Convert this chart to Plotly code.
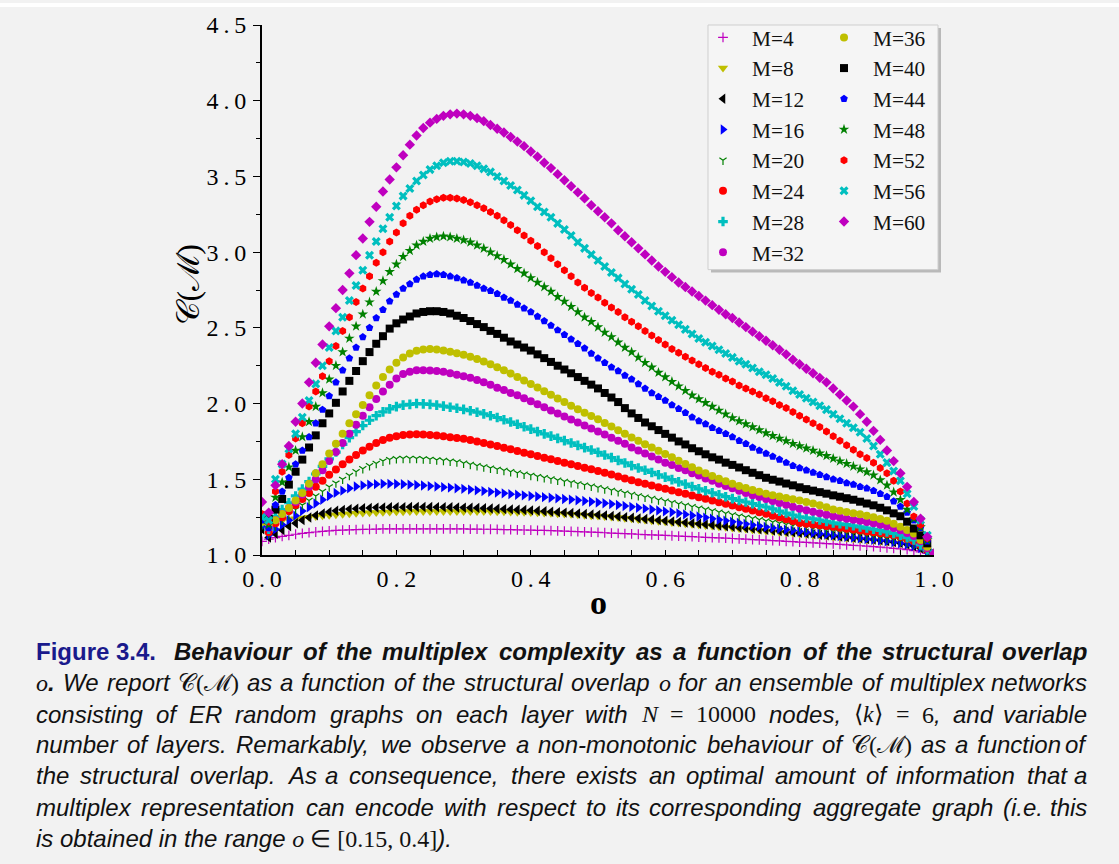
import plotly.graph_objects as go

# ---------------- data ----------------
o_values = [0.00, 0.01, 0.02, 0.03, 0.04, 0.05, 0.06, 0.07, 0.08, 0.09,
            0.10, 0.11, 0.12, 0.13, 0.14, 0.15, 0.16, 0.17, 0.18, 0.19,
            0.20, 0.21, 0.22, 0.23, 0.24, 0.25, 0.26, 0.27, 0.28, 0.29,
            0.30, 0.31, 0.32, 0.33, 0.34, 0.35, 0.36, 0.37, 0.38, 0.39,
            0.40, 0.41, 0.42, 0.43, 0.44, 0.45, 0.46, 0.47, 0.48, 0.49,
            0.50, 0.51, 0.52, 0.53, 0.54, 0.55, 0.56, 0.57, 0.58, 0.59,
            0.60, 0.61, 0.62, 0.63, 0.64, 0.65, 0.66, 0.67, 0.68, 0.69,
            0.70, 0.71, 0.72, 0.73, 0.74, 0.75, 0.76, 0.77, 0.78, 0.79,
            0.80, 0.81, 0.82, 0.83, 0.84, 0.85, 0.86, 0.87, 0.88, 0.89,
            0.90, 0.91, 0.92, 0.93, 0.94, 0.95, 0.96, 0.97, 0.98, 0.99,
            1.00]

series_names = ["M=4", "M=8", "M=12", "M=16", "M=20", "M=24", "M=28", "M=32",
                "M=36", "M=40", "M=44", "M=48", "M=52", "M=56", "M=60"]

c_M4 = [1.09, 1.105, 1.115, 1.123, 1.13, 1.137, 1.143, 1.148, 1.152, 1.156,
        1.159, 1.162, 1.164, 1.166, 1.168, 1.169, 1.17, 1.171, 1.172, 1.172,
        1.173, 1.173, 1.173, 1.173, 1.173, 1.173, 1.173, 1.173, 1.172, 1.172,
        1.172, 1.171, 1.171, 1.17, 1.17, 1.169, 1.168, 1.167, 1.166, 1.165,
        1.164, 1.163, 1.162, 1.161, 1.159, 1.158, 1.156, 1.155, 1.153, 1.151,
        1.149, 1.147, 1.145, 1.143, 1.141, 1.139, 1.137, 1.135, 1.133, 1.131,
        1.129, 1.127, 1.125, 1.123, 1.121, 1.119, 1.117, 1.115, 1.113, 1.111,
        1.109, 1.107, 1.105, 1.102, 1.1, 1.098, 1.095, 1.093, 1.09, 1.088,
        1.085, 1.083, 1.08, 1.078, 1.075, 1.073, 1.07, 1.067, 1.064, 1.061,
        1.058, 1.055, 1.052, 1.048, 1.044, 1.04, 1.035, 1.029, 1.021, 1.011,
        1.001]

c_M8 = [1.22, 1.215, 1.222, 1.228, 1.234, 1.24, 1.245, 1.25, 1.255, 1.259,
        1.263, 1.266, 1.269, 1.272, 1.275, 1.277, 1.279, 1.281, 1.283, 1.284,
        1.285, 1.286, 1.287, 1.287, 1.288, 1.288, 1.288, 1.288, 1.288, 1.288,
        1.288, 1.288, 1.288, 1.287, 1.287, 1.286, 1.285, 1.284, 1.283, 1.282,
        1.281, 1.279, 1.277, 1.275, 1.273, 1.271, 1.269, 1.266, 1.263, 1.26,
        1.257, 1.254, 1.251, 1.247, 1.243, 1.239, 1.235, 1.231, 1.227, 1.223,
        1.219, 1.215, 1.211, 1.207, 1.203, 1.199, 1.195, 1.191, 1.187, 1.183,
        1.179, 1.175, 1.171, 1.167, 1.163, 1.159, 1.155, 1.151, 1.147, 1.143,
        1.139, 1.135, 1.131, 1.127, 1.123, 1.119, 1.115, 1.111, 1.107, 1.103,
        1.099, 1.095, 1.091, 1.086, 1.081, 1.075, 1.067, 1.057, 1.043, 1.021,
        1.002]

c_M12 = [1.17, 1.115, 1.14, 1.165, 1.19, 1.21, 1.23, 1.248, 1.262, 1.274,
         1.284, 1.292, 1.298, 1.303, 1.306, 1.309, 1.311, 1.313, 1.314, 1.315,
         1.316, 1.316, 1.317, 1.317, 1.317, 1.317, 1.316, 1.316, 1.315, 1.314,
         1.313, 1.312, 1.311, 1.309, 1.307, 1.305, 1.303, 1.301, 1.299, 1.297,
         1.295, 1.292, 1.289, 1.286, 1.283, 1.28, 1.277, 1.274, 1.271, 1.268,
         1.265, 1.262, 1.258, 1.254, 1.25, 1.246, 1.242, 1.238, 1.234, 1.23,
         1.226, 1.222, 1.218, 1.214, 1.21, 1.206, 1.202, 1.198, 1.194, 1.19,
         1.186, 1.182, 1.178, 1.174, 1.17, 1.166, 1.162, 1.158, 1.154, 1.15,
         1.146, 1.142, 1.138, 1.134, 1.13, 1.126, 1.122, 1.118, 1.114, 1.11,
         1.106, 1.102, 1.097, 1.092, 1.086, 1.079, 1.07, 1.059, 1.044, 1.022,
         1.002]

c_M16 = [1.19, 1.13, 1.17, 1.20, 1.23, 1.26, 1.29, 1.315, 1.34, 1.365,
         1.39, 1.41, 1.425, 1.44, 1.452, 1.46, 1.465, 1.468, 1.47, 1.47,
         1.469, 1.467, 1.465, 1.462, 1.459, 1.455, 1.452, 1.448, 1.445, 1.441,
         1.437, 1.432, 1.427, 1.422, 1.417, 1.412, 1.407, 1.402, 1.398, 1.394,
         1.39, 1.386, 1.382, 1.378, 1.374, 1.37, 1.366, 1.362, 1.357, 1.352,
         1.347, 1.342, 1.336, 1.33, 1.324, 1.318, 1.312, 1.306, 1.3, 1.294,
         1.288, 1.282, 1.275, 1.268, 1.261, 1.254, 1.247, 1.24, 1.233, 1.226,
         1.219, 1.212, 1.205, 1.198, 1.191, 1.185, 1.179, 1.173, 1.167, 1.161,
         1.155, 1.15, 1.145, 1.14, 1.135, 1.13, 1.125, 1.12, 1.115, 1.11,
         1.105, 1.1, 1.095, 1.09, 1.084, 1.077, 1.069, 1.059, 1.046, 1.025,
         1.002]

c_M20 = [1.20, 1.14, 1.19, 1.23, 1.265, 1.30, 1.33, 1.36, 1.39, 1.42,
         1.45, 1.475, 1.50, 1.525, 1.55, 1.57, 1.59, 1.605, 1.62, 1.63,
         1.636, 1.638, 1.638, 1.637, 1.635, 1.632, 1.628, 1.624, 1.619, 1.614,
         1.606, 1.598, 1.59, 1.582, 1.574, 1.566, 1.558, 1.55, 1.542, 1.534,
         1.526, 1.518, 1.51, 1.502, 1.494, 1.486, 1.478, 1.47, 1.462, 1.454,
         1.445, 1.436, 1.427, 1.418, 1.409, 1.4, 1.391, 1.382, 1.373, 1.364,
         1.355, 1.346, 1.337, 1.328, 1.319, 1.31, 1.301, 1.292, 1.283, 1.274,
         1.265, 1.257, 1.249, 1.241, 1.233, 1.225, 1.217, 1.209, 1.201, 1.193,
         1.186, 1.18, 1.174, 1.168, 1.162, 1.156, 1.15, 1.144, 1.138, 1.132,
         1.126, 1.12, 1.114, 1.108, 1.101, 1.093, 1.084, 1.073, 1.057, 1.03,
         1.003]

c_M24 = [1.22, 1.15, 1.21, 1.25, 1.29, 1.33, 1.37, 1.41, 1.45, 1.49,
         1.53, 1.565, 1.60, 1.63, 1.66, 1.69, 1.715, 1.74, 1.76, 1.775,
         1.785, 1.792, 1.795, 1.797, 1.796, 1.793, 1.789, 1.784, 1.778, 1.772,
         1.767, 1.76, 1.75, 1.74, 1.73, 1.72, 1.709, 1.698, 1.687, 1.676,
         1.665, 1.654, 1.643, 1.632, 1.621, 1.61, 1.599, 1.588, 1.577, 1.566,
         1.555, 1.543, 1.531, 1.519, 1.506, 1.493, 1.481, 1.47, 1.459, 1.448,
         1.437, 1.426, 1.415, 1.404, 1.393, 1.382, 1.371, 1.36, 1.349, 1.338,
         1.327, 1.316, 1.305, 1.294, 1.283, 1.272, 1.26, 1.248, 1.236, 1.224,
         1.212, 1.207, 1.202, 1.197, 1.192, 1.186, 1.18, 1.174, 1.168, 1.162,
         1.156, 1.15, 1.144, 1.138, 1.13, 1.12, 1.106, 1.09, 1.065, 1.035,
         1.003]

c_M28 = [1.22, 1.17, 1.255, 1.30, 1.345, 1.39, 1.435, 1.485, 1.535, 1.585,
         1.635, 1.68, 1.73, 1.775, 1.815, 1.855, 1.89, 1.92, 1.945, 1.965,
         1.98, 1.99, 1.995, 2.00, 1.998, 1.995, 1.99, 1.983, 1.976, 1.969,
         1.962, 1.953, 1.943, 1.932, 1.92, 1.908, 1.893, 1.878, 1.863, 1.847,
         1.831, 1.815, 1.8, 1.785, 1.77, 1.755, 1.74, 1.724, 1.709, 1.693,
         1.678, 1.66, 1.643, 1.625, 1.608, 1.59, 1.575, 1.56, 1.545, 1.53,
         1.514, 1.498, 1.483, 1.468, 1.452, 1.437, 1.424, 1.411, 1.398, 1.385,
         1.372, 1.361, 1.35, 1.339, 1.328, 1.317, 1.304, 1.29, 1.277, 1.264,
         1.252, 1.245, 1.238, 1.231, 1.222, 1.212, 1.206, 1.2, 1.193, 1.186,
         1.178, 1.17, 1.162, 1.153, 1.142, 1.131, 1.115, 1.099, 1.066, 1.033,
         1.003]

c_M32 = [1.24, 1.18, 1.23, 1.27, 1.31, 1.35, 1.40, 1.45, 1.50, 1.56,
         1.62, 1.68, 1.74, 1.80, 1.86, 1.92, 1.975, 2.03, 2.08, 2.125,
         2.165, 2.195, 2.21, 2.22, 2.22, 2.218, 2.215, 2.21, 2.20, 2.19,
         2.18, 2.17, 2.155, 2.14, 2.125, 2.105, 2.09, 2.07, 2.055, 2.035,
         2.015, 1.995, 1.975, 1.955, 1.935, 1.915, 1.895, 1.875, 1.855, 1.835,
         1.815, 1.795, 1.775, 1.755, 1.735, 1.71, 1.69, 1.67, 1.65, 1.63,
         1.61, 1.595, 1.575, 1.56, 1.54, 1.525, 1.505, 1.49, 1.47, 1.455,
         1.44, 1.425, 1.41, 1.395, 1.383, 1.37, 1.357, 1.344, 1.332, 1.318,
         1.306, 1.295, 1.285, 1.275, 1.265, 1.256, 1.248, 1.24, 1.233, 1.226,
         1.218, 1.21, 1.20, 1.19, 1.178, 1.164, 1.145, 1.125, 1.09, 1.045,
         1.005]

c_M36 = [1.22, 1.20, 1.23, 1.27, 1.31, 1.36, 1.41, 1.47, 1.54, 1.60,
         1.67, 1.735, 1.80, 1.87, 1.93, 1.99, 2.055, 2.12, 2.175, 2.225,
         2.27, 2.305, 2.33, 2.348, 2.357, 2.36, 2.357, 2.35, 2.342, 2.333,
         2.322, 2.31, 2.295, 2.278, 2.26, 2.24, 2.22, 2.198, 2.176, 2.153,
         2.13, 2.106, 2.082, 2.058, 2.034, 2.01, 1.986, 1.962, 1.94, 1.918,
         1.896, 1.872, 1.848, 1.824, 1.80, 1.776, 1.754, 1.732, 1.71, 1.688,
         1.667, 1.645, 1.623, 1.601, 1.58, 1.558, 1.54, 1.522, 1.504, 1.487,
         1.47, 1.456, 1.443, 1.43, 1.417, 1.404, 1.395, 1.386, 1.377, 1.368,
         1.36, 1.35, 1.34, 1.328, 1.315, 1.30, 1.292, 1.284, 1.276, 1.269,
         1.26, 1.25, 1.238, 1.226, 1.206, 1.186, 1.165, 1.142, 1.099, 1.055,
         1.005]

c_M40 = [1.26, 1.24, 1.30, 1.37, 1.465, 1.55, 1.63, 1.71, 1.79, 1.87,
         1.935, 2.005, 2.08, 2.15, 2.215, 2.28, 2.34, 2.395, 2.445, 2.495,
         2.53, 2.555, 2.575, 2.595, 2.605, 2.61, 2.61, 2.605, 2.595, 2.58,
         2.565, 2.545, 2.525, 2.505, 2.48, 2.46, 2.435, 2.41, 2.39, 2.37,
         2.35, 2.325, 2.30, 2.275, 2.25, 2.225, 2.20, 2.175, 2.15, 2.125,
         2.10, 2.07, 2.04, 2.01, 1.97, 1.935, 1.905, 1.875, 1.85, 1.825,
         1.80, 1.775, 1.75, 1.73, 1.705, 1.685, 1.665, 1.645, 1.63, 1.61,
         1.595, 1.578, 1.56, 1.543, 1.527, 1.51, 1.497, 1.485, 1.472, 1.46,
         1.447, 1.435, 1.425, 1.415, 1.405, 1.394, 1.385, 1.375, 1.365, 1.352,
         1.34, 1.328, 1.312, 1.295, 1.275, 1.256, 1.22, 1.175, 1.13, 1.077,
         1.01]

c_M44 = [1.23, 1.18, 1.33, 1.42, 1.51, 1.60, 1.69, 1.78, 1.87, 1.96,
         2.05, 2.14, 2.22, 2.30, 2.37, 2.44, 2.50, 2.565, 2.62, 2.675,
         2.72, 2.76, 2.79, 2.82, 2.84, 2.85, 2.855, 2.85, 2.84, 2.83,
         2.815, 2.80, 2.78, 2.76, 2.745, 2.725, 2.70, 2.68, 2.655, 2.63,
         2.605, 2.575, 2.545, 2.515, 2.485, 2.455, 2.425, 2.395, 2.365, 2.33,
         2.30, 2.27, 2.24, 2.215, 2.185, 2.16, 2.13, 2.10, 2.07, 2.045,
         2.02, 1.99, 1.965, 1.94, 1.91, 1.885, 1.865, 1.84, 1.82, 1.80,
         1.78, 1.755, 1.735, 1.71, 1.69, 1.67, 1.65, 1.63, 1.61, 1.59,
         1.575, 1.56, 1.545, 1.53, 1.515, 1.50, 1.49, 1.475, 1.465, 1.45,
         1.44, 1.425, 1.405, 1.385, 1.355, 1.32, 1.28, 1.23, 1.18, 1.09,
         1.01]

c_M48 = [1.25, 1.20, 1.38, 1.48, 1.58, 1.69, 1.78, 1.88, 1.98, 2.07,
         2.16, 2.25, 2.34, 2.43, 2.51, 2.59, 2.67, 2.74, 2.81, 2.87,
         2.92, 2.97, 3.01, 3.045, 3.07, 3.09, 3.10, 3.105, 3.10, 3.09,
         3.08, 3.065, 3.045, 3.025, 3.00, 2.975, 2.95, 2.92, 2.89, 2.86,
         2.83, 2.80, 2.77, 2.74, 2.705, 2.675, 2.64, 2.605, 2.57, 2.54,
         2.505, 2.47, 2.44, 2.405, 2.37, 2.34, 2.305, 2.27, 2.24, 2.205,
         2.175, 2.145, 2.115, 2.085, 2.055, 2.03, 2.005, 1.98, 1.955, 1.93,
         1.905, 1.885, 1.865, 1.845, 1.825, 1.805, 1.787, 1.77, 1.753, 1.735,
         1.72, 1.705, 1.69, 1.672, 1.655, 1.637, 1.62, 1.603, 1.585, 1.567,
         1.548, 1.527, 1.495, 1.46, 1.415, 1.365, 1.30, 1.24, 1.185, 1.10,
         1.01]

c_M52 = [1.27, 1.22, 1.42, 1.55, 1.66, 1.77, 1.87, 1.98, 2.08, 2.18,
         2.28, 2.38, 2.48, 2.57, 2.67, 2.76, 2.84, 2.93, 3.00, 3.07,
         3.13, 3.19, 3.24, 3.28, 3.31, 3.335, 3.35, 3.36, 3.36, 3.355,
         3.345, 3.33, 3.31, 3.29, 3.265, 3.24, 3.21, 3.18, 3.145, 3.11,
         3.075, 3.04, 3.00, 2.96, 2.92, 2.88, 2.84, 2.80, 2.765, 2.73,
         2.70, 2.665, 2.635, 2.605, 2.57, 2.54, 2.51, 2.48, 2.45, 2.42,
         2.39, 2.36, 2.335, 2.31, 2.285, 2.26, 2.235, 2.21, 2.19, 2.165,
         2.145, 2.12, 2.10, 2.08, 2.06, 2.035, 2.015, 1.99, 1.97, 1.945,
         1.92, 1.895, 1.87, 1.845, 1.815, 1.785, 1.755, 1.725, 1.695, 1.665,
         1.64, 1.61, 1.575, 1.54, 1.49, 1.42, 1.34, 1.255, 1.20, 1.11,
         1.01]

c_M56 = [1.25, 1.23, 1.50, 1.60, 1.70, 1.80, 1.91, 2.02, 2.13, 2.25,
         2.37, 2.48, 2.57, 2.68, 2.78, 2.88, 2.98, 3.07, 3.155, 3.23,
         3.305, 3.37, 3.42, 3.47, 3.51, 3.545, 3.57, 3.59, 3.60, 3.60,
         3.595, 3.585, 3.57, 3.55, 3.53, 3.50, 3.47, 3.44, 3.41, 3.375,
         3.34, 3.30, 3.265, 3.23, 3.19, 3.15, 3.11, 3.065, 3.025, 2.985,
         2.945, 2.905, 2.865, 2.83, 2.79, 2.755, 2.72, 2.68, 2.645, 2.61,
         2.58, 2.55, 2.52, 2.49, 2.46, 2.43, 2.405, 2.38, 2.355, 2.33,
         2.305, 2.28, 2.26, 2.235, 2.21, 2.19, 2.165, 2.14, 2.115, 2.085,
         2.06, 2.035, 2.01, 1.985, 1.96, 1.93, 1.90, 1.87, 1.84, 1.81,
         1.77, 1.72, 1.665, 1.61, 1.555, 1.49, 1.405, 1.32, 1.23, 1.13,
         1.01]

c_M60 = [1.35, 1.28, 1.46, 1.60, 1.72, 1.88, 2.00, 2.14, 2.27, 2.39,
         2.51, 2.63, 2.75, 2.86, 2.98, 3.09, 3.20, 3.30, 3.40, 3.48,
         3.56, 3.64, 3.71, 3.77, 3.82, 3.855, 3.88, 3.90, 3.91, 3.915,
         3.91, 3.90, 3.885, 3.865, 3.84, 3.815, 3.79, 3.76, 3.73, 3.70,
         3.665, 3.63, 3.59, 3.555, 3.515, 3.475, 3.435, 3.395, 3.355, 3.31,
         3.27, 3.23, 3.19, 3.145, 3.105, 3.065, 3.025, 2.985, 2.945, 2.905,
         2.87, 2.835, 2.80, 2.77, 2.74, 2.71, 2.68, 2.65, 2.62, 2.59,
         2.565, 2.535, 2.505, 2.475, 2.445, 2.415, 2.385, 2.355, 2.325, 2.29,
         2.26, 2.23, 2.20, 2.17, 2.14, 2.10, 2.06, 2.02, 1.98, 1.93,
         1.88, 1.82, 1.76, 1.69, 1.62, 1.54, 1.45, 1.35, 1.24, 1.12,
         1.01]

series_values = [c_M4, c_M8, c_M12, c_M16, c_M20, c_M24, c_M28, c_M32,
                 c_M36, c_M40, c_M44, c_M48, c_M52, c_M56, c_M60]

y_tick_values = [1.0, 1.5, 2.0, 2.5, 3.0, 3.5, 4.0, 4.5]
x_tick_values = [0.0, 0.2, 0.4, 0.6, 0.8, 1.0]

# ---------------- styles ----------------
MAG, YEL, BLK, BLU, GRN, RED, CYN = "#bf00bf", "#bfbf00", "#000000", "#0000ff", "#008000", "#ff0000", "#00bfbf"
styles = [
    dict(symbol="cross-thin", color=MAG, size=7, line=dict(width=1.2, color=MAG)),
    dict(symbol="triangle-down", color=YEL, size=9, line=dict(width=0)),
    dict(symbol="triangle-left", color=BLK, size=9, line=dict(width=0)),
    dict(symbol="triangle-right", color=BLU, size=9, line=dict(width=0)),
    dict(symbol="y-down", color=GRN, size=6, line=dict(width=1.2, color=GRN)),
    dict(symbol="circle", color=RED, size=8, line=dict(width=0)),
    dict(symbol="cross", color=CYN, size=8, line=dict(width=0)),
    dict(symbol="circle", color=MAG, size=8, line=dict(width=0)),
    dict(symbol="circle", color=YEL, size=8, line=dict(width=0)),
    dict(symbol="square", color=BLK, size=8, line=dict(width=0)),
    dict(symbol="pentagon", color=BLU, size=8, line=dict(width=0)),
    dict(symbol="star", color=GRN, size=8, line=dict(width=0)),
    dict(symbol="hexagon", color=RED, size=8, line=dict(width=0)),
    dict(symbol="x", color=CYN, size=8, line=dict(width=0)),
    dict(symbol="diamond", color=MAG, size=8, line=dict(width=0)),
]

fig = go.Figure()
for i, (name, vals, st) in enumerate(zip(series_names, series_values, styles)):
    fig.add_trace(go.Scatter(
        x=o_values, y=vals, mode="markers", name=name,
        marker=st,
        legend="legend" if i < 8 else "legend2",
    ))

# ---------------- layout helpers (pixel -> paper) ----------------
L, R, T, B = 262, 934, 22, 555
def px(xp):
    return (xp - L) / (R - L)
def py(yp):
    return (B - yp) / (B - T)

BG = "#f2f2f2"
SERIF = "Liberation Serif"
SANS = "Liberation Sans"
TS = "\u2009"

legend_common = dict(
    xanchor="left", yanchor="top", bgcolor="rgba(0,0,0,0)", borderwidth=0,
    font=dict(family=SERIF, size=21.3, color="#111111"), itemwidth=48, tracegroupgap=0,
)

def tick_text(v):
    s = f"{v:.1f}"
    return TS.join(s)

fig.update_layout(
    width=1119, height=864,
    margin=dict(l=L, r=1119 - R, t=T, b=864 - B, pad=0),
    paper_bgcolor=BG, plot_bgcolor=BG,
    showlegend=True,
    legend=dict(x=px(694), y=py(14), **legend_common),
    legend2=dict(x=px(815), y=py(14), **legend_common),
    xaxis=dict(
        range=[0, 1], showgrid=False, zeroline=False,
        showline=True, linecolor="black", linewidth=2,
        ticks="inside", ticklen=5, tickwidth=1.2, tickcolor="black",
        tickvals=x_tick_values, ticktext=[tick_text(v) for v in x_tick_values],
        tickfont=dict(family=SERIF, size=24, color="black"),
        ticklabelstandoff=1,
        minor=dict(dtick=0.05, tick0=0, ticks="inside", ticklen=5, tickwidth=1.2, tickcolor="black"),
    ),
    yaxis=dict(
        range=[1, 4.5], showgrid=False, zeroline=False,
        showline=True, linecolor="black", linewidth=2,
        ticks="outside", ticklen=7, tickwidth=1.2, tickcolor="black",
        tickvals=y_tick_values, ticktext=[tick_text(v) for v in y_tick_values],
        tickfont=dict(family=SERIF, size=24, color="black"),
        ticklabelstandoff=2,
        minor=dict(dtick=0.25, tick0=1, ticks="outside", ticklen=4, tickwidth=1.2, tickcolor="black"),
    ),
)

# legend frame with shadow + thin white strip at the very top
shapes = [
    dict(type="rect", xref="paper", yref="paper", x0=px(711), x1=px(941), y0=py(271), y1=py(25),
         fillcolor="#b9b9b9", line=dict(width=0), layer="above"),
    dict(type="rect", xref="paper", yref="paper", x0=px(708), x1=px(938), y0=py(268), y1=py(22),
         fillcolor="#f5f5f5", line=dict(width=1, color="#cfcfcf"), layer="above"),
    dict(type="rect", xref="paper", yref="paper", x0=px(0), x1=px(1119), y0=py(4), y1=py(0),
         fillcolor="#ffffff", line=dict(width=0), layer="above"),
]
fig.update_layout(shapes=shapes)

ann = []
# axis titles
ann.append(dict(x=px(598), y=py(603), xref="paper", yref="paper", text="<b>o</b>", showarrow=False,
                font=dict(family=SERIF, size=34, color="black"), xanchor="center", yanchor="middle"))
ann.append(dict(x=px(188), y=py(283), xref="paper", yref="paper", text="\U0001D49E(\u2133)", showarrow=False,
                textangle=-90, font=dict(family=SERIF, size=32, color="black"), xanchor="center", yanchor="middle"))

# ---------------- caption with justified lines ----------------
# advance widths (em) of Liberation Sans (Arial-compatible metrics), regular/italic and bold
W_REG = {' ': .278, '.': .278, ',': .278, '-': .333, '(': .333, ')': .333,
         'A': .667, 'C': .722, 'E': .667, 'F': .611, 'N': .722, 'R': .722, 'W': .944,
         'a': .556, 'b': .556, 'c': .5, 'd': .556, 'e': .556, 'f': .278, 'g': .556, 'h': .556,
         'i': .222, 'j': .222, 'k': .5, 'l': .222, 'm': .833, 'n': .556, 'o': .556, 'p': .556,
         'q': .556, 'r': .333, 's': .5, 't': .278, 'u': .556, 'v': .5, 'w': .722, 'x': .5,
         'y': .5, 'z': .5}
W_BOLD = {' ': .278, '.': .278, '3': .556, '4': .556, 'B': .722, 'F': .611,
          'a': .556, 'b': .611, 'c': .556, 'e': .556, 'f': .333, 'g': .611, 'h': .611, 'i': .278,
          'l': .278, 'm': .889, 'n': .611, 'o': .611, 'p': .611, 'r': .389, 's': .556, 't': .333,
          'u': .611, 'v': .556, 'x': .556, 'y': .556}
W_SERIF = {'o': .5, 'N': .667, '=': .564, '0': .5, '1': .5, '4': .5, '5': .5, '6': .5,
           '[': .333, ']': .333, ',': .25, '.': .25, ' ': .25, 'k': .444,
           '\u27e8': .39, '\u27e9': .39, '\u2208': .67, '\U0001D49E': .8, '\u2133': 1.05,
           '(': .333, ')': .333}

REG_SIZE, BOLD_SIZE, MATH_SIZE = 24, 24, 24
WF = 1.012

def wid(s, table, size):
    return sum(table.get(ch, .6) for ch in s) * size * WF

def r(t):
    return dict(html=f"<i>{t}</i>", w=wid(t, W_REG, REG_SIZE), fam=SANS, size=REG_SIZE, color="#111111")

def b(t):
    return dict(html=f"<b><i>{t}</i></b>", w=wid(t, W_BOLD, BOLD_SIZE), fam=SANS, size=BOLD_SIZE, color="#111111")

def mth(html, plain):
    return dict(html=html, w=wid(plain, W_SERIF, MATH_SIZE), fam=SERIF, size=MATH_SIZE, color="#111111")

def mix(html, w):
    return dict(html=html, w=w, fam=SERIF, size=MATH_SIZE, color="#111111")

CM = "\U0001D49E(\u2133)"
fig_tok = dict(html="<b>Figure 3.4.</b>", w=wid("Figure 3.4.", W_BOLD, BOLD_SIZE) + 6,
               fam=SANS, size=BOLD_SIZE, color="#1a1a8c")
o_dot = mix(f"<i>o</i><span style='font-family:{SANS};font-size:{BOLD_SIZE}px'><b><i>.</i></b></span>",
            wid("o", W_SERIF, MATH_SIZE) + wid(".", W_BOLD, BOLD_SIZE))
six_comma = mix(f"6<span style='font-family:{SANS};font-size:{REG_SIZE}px'><i>,</i></span>",
                wid("6", W_SERIF, MATH_SIZE) + wid(",", W_REG, REG_SIZE))

caption_lines = [
    [fig_tok] + [b(w) for w in "Behaviour of the multiplex complexity as a function of the structural overlap".split()],
    [o_dot, r("We"), r("report"), mth(CM, CM)] +
    [r(w) for w in "as a function of the structural overlap".split()] +
    [mth("<i>o</i>", "o")] + [r(w) for w in "for an ensemble of multiplex networks".split()],
    [r(w) for w in "consisting of ER random graphs on each layer with".split()] +
    [mth("<i>N</i>", "N"), mth("=", "="), mth("10000", "10000"), r("nodes,"),
     mth("\u27e8<i>k</i>\u27e9", "\u27e8k\u27e9"), mth("=", "="), six_comma, r("and"), r("variable")],
    [r(w) for w in "number of layers. Remarkably, we observe a non-monotonic behaviour of".split()] +
    [mth(CM, CM)] + [r(w) for w in "as a function of".split()],
    [r(w) for w in "the structural overlap. As a consequence, there exists an optimal amount of information that a".split()],
    [r(w) for w in "multiplex representation can encode with respect to its corresponding aggregate graph (i.e. this".split()],
]
LEFT_EDGE, RIGHT_EDGE = 34, 1089
line_y = [652, 683.5, 715, 746, 777, 808.5]
for toks, yy in zip(caption_lines, line_y):
    total = sum(t["w"] for t in toks)
    gap = (RIGHT_EDGE - LEFT_EDGE - total) / (len(toks) - 1)
    xcur = LEFT_EDGE
    for k, t in enumerate(toks):
        last = (k == len(toks) - 1)
        ann.append(dict(
            x=px(RIGHT_EDGE if last else xcur), y=py(yy), xref="paper", yref="paper",
            text=t["html"], showarrow=False, xanchor="right" if last else "left", yanchor="middle",
            font=dict(family=t["fam"], size=t["size"], color=t["color"]),
        ))
        xcur += t["w"] + gap

# last (non-justified) caption line
last_line = (f"<i>is obtained in the range </i>"
             f"<span style='font-family:{SERIF};font-size:{MATH_SIZE}px'><i>o</i> \u2208 [0.15, 0.4]</span><i>).</i>")
ann.append(dict(x=px(LEFT_EDGE), y=py(840), xref="paper", yref="paper", text=last_line, showarrow=False,
                xanchor="left", yanchor="middle", font=dict(family=SANS, size=REG_SIZE, color="#111111")))

fig.update_layout(annotations=ann)
fig.write_html("out.html")
